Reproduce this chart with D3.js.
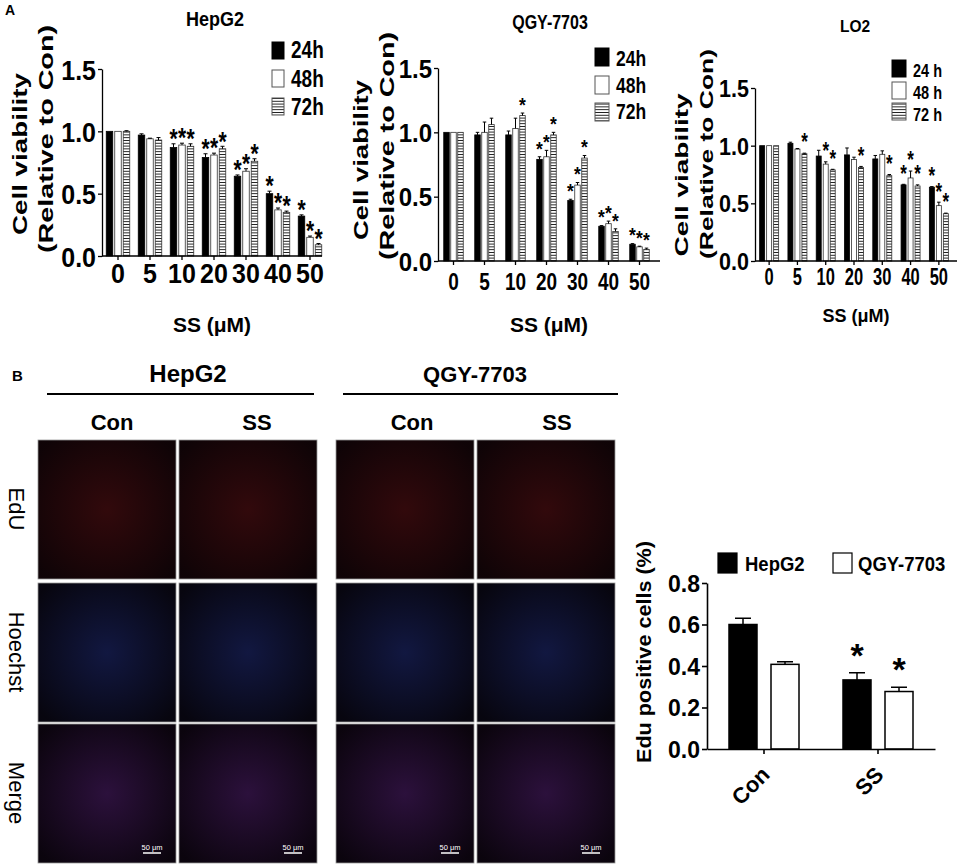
<!DOCTYPE html>
<html>
<head>
<meta charset="utf-8">
<script src="https://cdn.jsdelivr.net/npm/d3@7"></script>
<style>
body { margin: 0; background: #fff; }
svg { display: block; }
</style>
</head>
<body>
<div id="chart"></div>
<script>
// ---------- data ----------
const doses = ["0", "5", "10", "20", "30", "40", "50"];
const hours = ["24h", "48h", "72h"];
const hoursLO2 = ["24 h", "48 h", "72 h"];
const viabilityTicks = [0, 0.5, 1.0, 1.5];

// HepG2 cell viability (relative to Con)
const hepg2_24 = [1.00, 0.97, 0.87, 0.79, 0.64, 0.50, 0.32];
const hepg2_48 = [1.00, 0.94, 0.89, 0.81, 0.68, 0.37, 0.15];
const hepg2_72 = [1.00, 0.93, 0.88, 0.86, 0.76, 0.35, 0.09];
const hepg2_24_err = [0, 0.01, 0.03, 0.03, 0.01, 0.02, 0.01];
const hepg2_48_err = [0, 0.005, 0.015, 0.015, 0.02, 0.015, 0.01];
const hepg2_72_err = [0.005, 0.02, 0.02, 0.02, 0.02, 0.01, 0.01];
const hepg2_24_star = [0, 0, 1, 1, 1, 1, 1];
const hepg2_48_star = [0, 0, 1, 1, 1, 1, 1];
const hepg2_72_star = [0, 0, 1, 1, 1, 1, 1];

// QGY-7703
const qgy_24 = [1.00, 0.98, 0.98, 0.79, 0.47, 0.27, 0.13];
const qgy_48 = [1.00, 1.00, 1.03, 0.81, 0.59, 0.29, 0.11];
const qgy_72 = [1.00, 1.06, 1.13, 0.98, 0.80, 0.23, 0.09];
const qgy_24_err = [0, 0.02, 0.03, 0.02, 0.01, 0.005, 0.005];
const qgy_48_err = [0, 0.08, 0.08, 0.05, 0.02, 0.02, 0.005];
const qgy_72_err = [0, 0.05, 0.02, 0.02, 0.02, 0.02, 0.01];
const qgy_24_star = [0, 0, 0, 1, 1, 1, 1];
const qgy_48_star = [0, 0, 0, 1, 1, 1, 1];
const qgy_72_star = [0, 0, 1, 1, 1, 1, 1];

// LO2
const lo2_24 = [1.00, 1.02, 0.91, 0.92, 0.885, 0.66, 0.64];
const lo2_48 = [1.00, 0.97, 0.84, 0.88, 0.925, 0.72, 0.48];
const lo2_72 = [1.00, 0.93, 0.79, 0.81, 0.74, 0.65, 0.41];
const lo2_24_err = [0, 0.01, 0.05, 0.06, 0.03, 0.005, 0.005];
const lo2_48_err = [0, 0.005, 0.02, 0.02, 0.03, 0.06, 0.03];
const lo2_72_err = [0, 0.005, 0.005, 0.01, 0.01, 0.01, 0.005];
const lo2_24_star = [0, 0, 0, 0, 0, 1, 1];
const lo2_48_star = [0, 0, 1, 0, 0, 1, 1];
const lo2_72_star = [0, 1, 1, 1, 1, 1, 1];

// EdU positive cells
const eduGroups = ["Con", "SS"];
const eduSeries = ["HepG2", "QGY-7703"];
const eduHepG2 = [0.60, 0.333];
const eduHepG2Err = [0.03, 0.035];
const eduHepG2Star = [0, 1];
const eduQGY = [0.408, 0.277];
const eduQGYErr = [0.012, 0.02];
const eduQGYStar = [0, 1];
const eduTicks = [0, 0.2, 0.4, 0.6, 0.8];

// microscopy grid labels
const cellLines = ["HepG2", "QGY-7703"];
const treatments = ["Con", "SS"];
const stains = ["EdU", "Hoechst", "Merge"];

// ---------- setup ----------
const FONT = "'Liberation Sans', Arial, Helvetica, sans-serif";
const W = 957, H = 866;

const svg = d3.select("#chart").append("svg")
    .attr("width", W)
    .attr("height", H)
    .attr("font-family", FONT);

const defs = svg.append("defs");
const hatch = defs.append("pattern")
    .attr("id", "hatch")
    .attr("patternUnits", "userSpaceOnUse")
    .attr("width", 10)
    .attr("height", 2.8);
hatch.append("rect").attr("width", 10).attr("height", 2.8).attr("fill", "#fff");
hatch.append("rect").attr("width", 10).attr("height", 0.9).attr("fill", "#111");

const fills = ["#000", "#fff", "url(#hatch)"];

// stretched text (the figure's type is taller than it is wide)
function label(g, x, y, str, o) {
    return g.append("text")
        .attr("transform", `translate(${x},${y}) scale(${o.sx || 1},${o.sy || 1})`)
        .attr("text-anchor", o.anchor || "middle")
        .attr("font-size", o.fs)
        .attr("font-weight", o.weight || "bold")
        .text(str);
}

// rotated text, stretched along its length
function vlabel(g, x, y, str, fs, len, angle, weight) {
    const t = g.append("text")
        .attr("transform", `translate(${x},${y}) rotate(${angle})`)
        .attr("text-anchor", "middle")
        .attr("dy", "0.35em")
        .attr("font-size", fs)
        .attr("font-weight", weight || "bold")
        .text(str);
    if (len) t.attr("textLength", len).attr("lengthAdjust", "spacingAndGlyphs");
    return t;
}

// ---------- panel A: viability bars ----------
function drawViability(c) {
    const g = svg.append("g");
    const x = d3.scaleBand().domain(doses).range([c.left, c.right]);
    const y = d3.scaleLinear().domain([0, 1.5]).range([c.bottom, c.top]);

    const rows = [];
    c.values.forEach((vals, s) => vals.forEach((v, i) => rows.push({
        dose: doses[i], s: s, v: v, e: c.errors[s][i], star: c.stars[s][i]
    })));
    const cx = d => x(d.dose) + x.bandwidth() / 2 + (d.s - 1) * c.off;

    g.selectAll("rect.bar")
        .data(rows)
        .join("rect")
        .attr("class", "bar")
        .attr("x", d => cx(d) - c.barW / 2)
        .attr("width", c.barW)
        .attr("y", d => y(d.v))
        .attr("height", d => y(0) - y(d.v))
        .attr("fill", d => fills[d.s])
        .attr("stroke", d => d.s ? "#333" : "#000")
        .attr("stroke-width", 0.8);

    g.selectAll("path.err")
        .data(rows.filter(d => d.e > 0))
        .join("path")
        .attr("class", "err")
        .attr("d", d => `M${cx(d)},${y(d.v)}V${y(d.v + d.e)}M${cx(d) - c.capW / 2},${y(d.v + d.e)}H${cx(d) + c.capW / 2}`)
        .attr("stroke", "#000")
        .attr("stroke-width", 1)
        .attr("fill", "none");

    // asterisks: narrow but tall, centred c.starGap px above the error bar
    rows.filter(d => d.star).forEach(d => {
        const base = y(d.v + d.e) - c.starGap + 0.56 * c.starFs * c.starSy;
        label(g, cx(d), base, "*", { fs: c.starFs, sy: c.starSy });
    });

    // y axis
    const ya = g.append("g")
        .attr("transform", `translate(${c.left},0)`)
        .call(d3.axisLeft(y).tickValues(viabilityTicks).tickFormat(d3.format(".1f")).tickSize(4).tickSizeOuter(0));
    ya.attr("font-family", FONT).attr("font-weight", "bold").attr("font-size", c.yTick.fs);
    ya.selectAll("path, line").attr("stroke-width", 1.3);
    ya.selectAll("text")
        .attr("x", null).attr("dy", null)
        .attr("transform", `translate(-6,${0.36 * c.yTick.fs * c.yTick.sy}) scale(1,${c.yTick.sy})`);

    // x axis
    const xa = g.append("g")
        .attr("transform", `translate(0,${c.bottom})`)
        .call(d3.axisBottom(x).tickSize(4).tickSizeOuter(0));
    xa.attr("font-family", FONT).attr("font-weight", "bold").attr("font-size", c.xTick.fs);
    xa.select(".domain").attr("d", `M${c.left},0H${c.axisEnd}`);
    xa.selectAll("path, line").attr("stroke-width", 1.3);
    xa.selectAll("text")
        .attr("y", null).attr("dy", null)
        .attr("transform", `translate(0,${c.xTick.off}) scale(1,${c.xTick.sy})`);

    // title, axis titles
    label(g, c.titlePos.x, c.titlePos.y, c.title, c.titlePos);
    vlabel(g, c.ylab[0].x, c.ylab[0].y, "Cell viability", c.ylabFs, c.ylab[0].len, -90);
    vlabel(g, c.ylab[1].x, c.ylab[1].y, "(Relative to Con)", c.ylabFs, c.ylab[1].len, -90);
    label(g, c.xlab.x, c.xlab.y, "SS (\u03bcM)", c.xlab);

    // legend
    c.legendText.forEach((t, s) => {
        g.append("rect")
            .attr("x", c.leg.x).attr("y", c.leg.tops[s])
            .attr("width", c.leg.w).attr("height", c.leg.h)
            .attr("fill", fills[s])
            .attr("stroke", s ? "#555" : "#000")
            .attr("stroke-width", 1);
        label(g, c.leg.tx, c.leg.base[s], t, { fs: c.leg.fs, sy: c.leg.sy, anchor: "start" });
    });
}

label(svg, 5, 15, "A", { fs: 14, anchor: "start" });

drawViability({
    title: "HepG2",
    values: [hepg2_24, hepg2_48, hepg2_72],
    errors: [hepg2_24_err, hepg2_48_err, hepg2_72_err],
    stars: [hepg2_24_star, hepg2_48_star, hepg2_72_star],
    legendText: hours,
    left: 102, right: 326, axisEnd: 322, bottom: 256, top: 69,
    barW: 6.5, off: 8.5, capW: 4,
    starFs: 21, starSy: 1.3, starGap: 11,
    yTick: { fs: 25, sy: 1.12 },
    xTick: { fs: 25, sy: 1.12, off: 27 },
    titlePos: { x: 215, y: 26, fs: 18, sy: 1.1 },
    leg: { x: 272, w: 12, h: 17, tops: [42, 70, 98], tx: 291, base: [58, 87, 115], fs: 19, sy: 1.25 },
    ylab: [{ x: 20, y: 154, len: 162 }, { x: 46, y: 139, len: 228 }],
    ylabFs: 20,
    xlab: { x: 212, y: 332, fs: 21 }
});

drawViability({
    title: "QGY-7703",
    values: [qgy_24, qgy_48, qgy_72],
    errors: [qgy_24_err, qgy_48_err, qgy_72_err],
    stars: [qgy_24_star, qgy_48_star, qgy_72_star],
    legendText: hours,
    left: 438, right: 655, axisEnd: 660, bottom: 261, top: 68,
    barW: 5.5, off: 7, capW: 3.5,
    starFs: 17.5, starSy: 1.2, starGap: 13,
    yTick: { fs: 24, sy: 1.05 },
    xTick: { fs: 19, sy: 1.25, off: 29 },
    titlePos: { x: 550, y: 29, fs: 16, sy: 1.3 },
    leg: { x: 595, w: 14, h: 18, tops: [48, 76, 103], tx: 616, base: [66, 93, 119], fs: 17.5, sy: 1.28 },
    ylab: [{ x: 361, y: 160, len: 160 }, { x: 387, y: 146, len: 228 }],
    ylabFs: 20,
    xlab: { x: 549, y: 332, fs: 21 }
});

drawViability({
    title: "LO2",
    values: [lo2_24, lo2_48, lo2_72],
    errors: [lo2_24_err, lo2_48_err, lo2_72_err],
    stars: [lo2_24_star, lo2_48_star, lo2_72_star],
    legendText: hoursLO2,
    left: 755, right: 953, axisEnd: 957, bottom: 261, top: 88,
    barW: 5, off: 7, capW: 3.5,
    starFs: 17, starSy: 1.4, starGap: 16,
    yTick: { fs: 21.5, sy: 1.1 },
    xTick: { fs: 16.5, sy: 1.5, off: 24 },
    titlePos: { x: 855, y: 32, fs: 15.5, sy: 1.1 },
    leg: { x: 892, w: 14, h: 17, tops: [60, 82, 103], tx: 913, base: [77, 99, 121], fs: 14.5, sy: 1.3 },
    ylab: [{ x: 681, y: 175, len: 163 }, { x: 706, y: 154, len: 210 }],
    ylabFs: 19,
    xlab: { x: 856, y: 322, fs: 18 }
});

// ---------- panel B: microscopy grid ----------
label(svg, 12, 381, "B", { fs: 15, anchor: "start" });

const colX = [38, 179, 336, 477];
const rowY = [440, 583, 724];
const tile = 138, tileH = 139;
const glow = [
    { id: "gEdU", c: "#ff2a2a", a: 0.18 },
    { id: "gHoe", c: "#3a5cff", a: 0.24 },
    { id: "gMer", c: "#9a3ad8", a: 0.26 }
];
glow.forEach(gw => {
    const rg = defs.append("radialGradient").attr("id", gw.id).attr("r", "65%");
    rg.append("stop").attr("offset", "0%").attr("stop-color", gw.c).attr("stop-opacity", gw.a);
    rg.append("stop").attr("offset", "100%").attr("stop-color", gw.c).attr("stop-opacity", 0.04);
});

const headerX = [188, 475];
const lineX = [[47, 314], [343, 618]];
const treatX = [112, 257, 412, 557];

cellLines.forEach((name, i) => {
    label(svg, headerX[i], 382, name, { fs: i ? 22 : 24 });
    svg.append("line")
        .attr("x1", lineX[i][0]).attr("x2", lineX[i][1])
        .attr("y1", 394).attr("y2", 394)
        .attr("stroke", "#000").attr("stroke-width", 2);
    treatments.forEach((t, j) => label(svg, treatX[i * 2 + j], 430, t, { fs: 22 }));
});

const rowMid = [509, 652, 793];
stains.forEach((s, r) => {
    vlabel(svg, 17, rowMid[r], s, 22, null, 90, "normal");
    colX.forEach(x0 => {
        svg.append("rect")
            .attr("x", x0).attr("y", rowY[r])
            .attr("width", tile).attr("height", tileH)
            .attr("fill", "#050205")
            .attr("stroke", "#9a9a9a").attr("stroke-width", 0.8);
        svg.append("rect")
            .attr("x", x0 + 0.5).attr("y", rowY[r] + 0.5)
            .attr("width", tile - 1).attr("height", tileH - 1)
            .attr("fill", `url(#${glow[r].id})`);
        if (r === 2) {
            const rx = x0 + tile, by = rowY[r] + tileH;
            svg.append("text")
                .attr("x", rx - 24).attr("y", by - 13)
                .attr("text-anchor", "middle")
                .attr("font-size", 7.5)
                .attr("fill", "#fff")
                .text("50 \u03bcm");
            svg.append("line")
                .attr("x1", rx - 33).attr("x2", rx - 15)
                .attr("y1", by - 10).attr("y2", by - 10)
                .attr("stroke", "#fff").attr("stroke-width", 1.5);
        }
    });
});

// ---------- panel B: EdU positive cells ----------
(function drawEdu() {
    const g = svg.append("g");
    const x = d3.scaleBand().domain(eduGroups).range([707, 935]);
    const y = d3.scaleLinear().domain([0, 0.8]).range([749, 583]);
    const barW = 28, off = 21;

    const rows = [];
    [eduHepG2, eduQGY].forEach((vals, s) => vals.forEach((v, i) => rows.push({
        grp: eduGroups[i], s: s, v: v,
        e: [eduHepG2Err, eduQGYErr][s][i],
        star: [eduHepG2Star, eduQGYStar][s][i]
    })));
    const cx = d => x(d.grp) + x.bandwidth() / 2 + (d.s ? off : -off);

    g.selectAll("path.err")
        .data(rows)
        .join("path")
        .attr("class", "err")
        .attr("d", d => `M${cx(d)},${y(d.v)}V${y(d.v + d.e)}M${cx(d) - 8},${y(d.v + d.e)}H${cx(d) + 8}`)
        .attr("stroke", "#000").attr("stroke-width", 1.5).attr("fill", "none");

    g.selectAll("rect.bar")
        .data(rows)
        .join("rect")
        .attr("class", "bar")
        .attr("x", d => cx(d) - barW / 2)
        .attr("width", barW)
        .attr("y", d => y(d.v))
        .attr("height", d => y(0) - y(d.v))
        .attr("fill", d => d.s ? "#fff" : "#000")
        .attr("stroke", "#000")
        .attr("stroke-width", 1.5);

    rows.filter(d => d.star).forEach(d => {
        label(g, cx(d), y(d.v + d.e) - 25 + 0.56 * 34, "*", { fs: 34 });
    });

    const ya = g.append("g")
        .attr("transform", "translate(707,0)")
        .call(d3.axisLeft(y).tickValues(eduTicks).tickFormat(d3.format(".1f")).tickSize(5).tickSizeOuter(0));
    ya.attr("font-family", FONT).attr("font-weight", "bold").attr("font-size", 23);
    ya.selectAll("path, line").attr("stroke-width", 1.6);
    ya.selectAll("text").attr("x", -7).attr("dy", "0.36em");

    const xa = g.append("g")
        .attr("transform", "translate(0,749)")
        .call(d3.axisBottom(x).tickSize(5).tickSizeOuter(0));
    xa.attr("font-family", FONT).attr("font-weight", "bold").attr("font-size", 22);
    xa.selectAll("path, line").attr("stroke-width", 1.6);
    xa.selectAll("text")
        .attr("y", null).attr("dy", null)
        .attr("text-anchor", "end")
        .attr("transform", "translate(7,27) rotate(-45)");

    vlabel(g, 644, 652, "Edu positive cells (%)", 20, 222, -90);

    // legend
    const legX = [718, 833], legTX = [745, 858];
    eduSeries.forEach((name, s) => {
        g.append("rect")
            .attr("x", legX[s]).attr("y", 553)
            .attr("width", 19).attr("height", 20)
            .attr("fill", s ? "#fff" : "#000")
            .attr("stroke", "#000").attr("stroke-width", 1.2);
        label(g, legTX[s], 571, name, { fs: 18.5, sy: 1.12, anchor: "start" });
    });
})();
</script>
</body>
</html>
